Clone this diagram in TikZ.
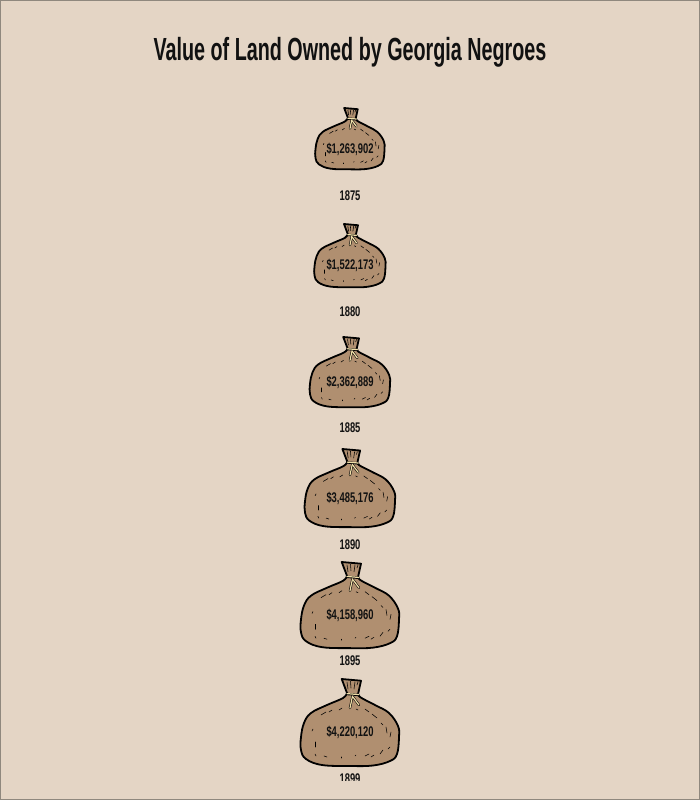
\documentclass[tikz,border=0pt]{standalone}
\usepackage{fontspec}
\setmainfont[BoldFont={Liberation Sans Bold}]{Liberation Sans}
\newfontfamily\titlefont[FakeStretch=0.617]{Liberation Sans Bold}
\newfontfamily\smallfont[FakeStretch=0.67]{Liberation Sans Bold}
\definecolor{paper}{HTML}{E4D5C5}
\definecolor{sack}{HTML}{B08F70}
\definecolor{rope}{HTML}{F0DFA8}
\definecolor{edgeline}{HTML}{8F887E}
\definecolor{ink}{HTML}{111111}
\tikzset{
  titletext/.style={font=\titlefont\fontsize{32}{32}\selectfont,text=ink,inner sep=0pt,anchor=base},
  valuetext/.style={font=\smallfont\fontsize{14}{14}\selectfont,text=ink,inner sep=0pt,anchor=base},
  yeartext/.style={font=\smallfont\fontsize{14}{14}\selectfont,text=ink,inner sep=0pt,anchor=base},
  sackline/.style={draw=black,line width=1.8pt,fill=sack,line join=round},
  stitch/.style={draw=black,line width=0.55pt,line cap=round},
  ropeedge/.style={draw=black,line width=2.3pt,line cap=round},
  ropeline/.style={draw=rope,line width=1.2pt,line cap=round},
  pics/moneybag/.style={code={
    \path[sackline] (-8.3,0) -- (11,1.7) -- (8.3,14)
      -- plot[smooth,tension=0.65] coordinates {(8.3,14) (10,18) (25,26) (39,34) (48,47) (49,58) (47,75) (40,82) (23,86.5) (0,87) (-28,86) (-44,80) (-49,71) (-49,58) (-46,44) (-39,34) (-23,26) (-7,19) (-3,14)}
      -- cycle;
    % folds of the neck
    \draw[stitch] (-3,3) -- (-2,10);
    \draw[stitch] (0.5,2.5) -- (1,9);
    \draw[stitch] (5,3) -- (4,10);
    \draw[stitch] (8,3) -- (7,6);
    % stitches
    \foreach \a/\b/\c/\d in {-29/36/-24/33, -21/33/-18/31, -11/31/-8/29, 15/30/19/33, 22/35/27/39, -37/50/-38/52, -35/63/-35/68, -35/75/-34/77, -26/77/-23/78, -9/78/-9/79, 5/77/6/76, 15/77/19/75, 21/78/24/76, 30/75/33/71, 38/70/40/68, 40/58/41/53, 36/48/37/54, 31/44/33/46, 6/30/8/31}{
      \draw[stitch] (\a,\b) -- (\c,\d);
    }
    % tie
    \draw[ropeedge] (-3,15) -- (9,16);
    \draw[ropeedge] (2.5,17) -- (0,29);
    \draw[ropeedge] (3,18) -- (9,26);
    \draw[ropeline] (-3,14.6) -- (9,15.6);
    \draw[ropeline] (2.5,17) -- (0,29);
    \draw[ropeline] (3,18) -- (9,26);
  }}
}
\begin{document}
\begin{tikzpicture}[x=1pt,y=-1pt]
  \useasboundingbox (0,0) rectangle (700,800);
  \fill[paper] (0,0) rectangle (700,800);
  \draw[edgeline,line width=1pt] (0.5,0.5) rectangle (699.5,799.5);
  \node[titletext] (title) at (350,61) {Value of Land Owned by Georgia Negroes};
  \pic[xscale=0.704,yscale=0.705] at (350,108) {moneybag};
  \pic[xscale=0.724,yscale=0.727] at (350,224) {moneybag};
  \pic[xscale=0.816,yscale=0.807] at (350,337) {moneybag};
  \pic[xscale=0.918,yscale=0.898] at (350,449) {moneybag};
  \pic[xscale=1.0,yscale=0.99] at (350,562) {moneybag};
  \pic[xscale=1.0,yscale=1.0] at (350,679) {moneybag};
  \node[valuetext] (v1875) at (350,153.5) {\$1,263,902};
  \node[valuetext] (v1880) at (350,269.5) {\$1,522,173};
  \node[valuetext] (v1885) at (350,386.5) {\$2,362,889};
  \node[valuetext] (v1890) at (350,502.5) {\$3,485,176};
  \node[valuetext] (v1895) at (350,619.5) {\$4,158,960};
  \node[valuetext] (v1899) at (350,736.5) {\$4,220,120};
  \node[yeartext] (y1875) at (350,200) {1875};
  \node[yeartext] (y1880) at (350,316) {1880};
  \node[yeartext] (y1885) at (350,432.5) {1885};
  \node[yeartext] (y1890) at (350,549.5) {1890};
  \node[yeartext] (y1895) at (350,665.5) {1895};
  \begin{scope}
    \clip (0,0) rectangle (700,780.5);
    \node[yeartext] (y1899) at (350,783) {1899};
  \end{scope}
\end{tikzpicture}
\end{document}
